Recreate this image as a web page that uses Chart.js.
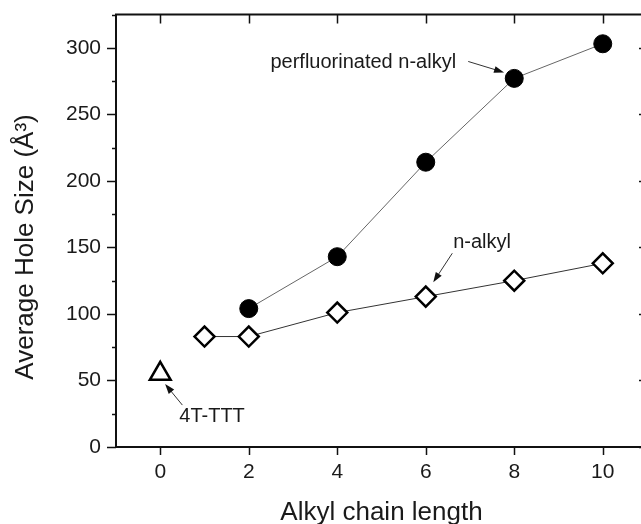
<!DOCTYPE html>
<html>
<head>
<meta charset="utf-8">
<script src="https://cdn.jsdelivr.net/npm/chart.js@4.4.0/dist/chart.umd.min.js"></script>
<style>
  html, body { margin: 0; padding: 0; background: #fff; overflow: hidden; }
  canvas { display: block; }
</style>
</head>
<body>
<canvas id="chart" width="680" height="524"></canvas>
<script>
// ==========================
// Data
// ==========================
const perfluoroX = [2, 4, 6, 8, 10];
const perfluoroY = [104, 143, 214, 277, 303];
const alkylX = [1, 2, 4, 6, 8, 10];
const alkylY = [83, 83, 101, 113, 125, 138];
const refX = [0];
const refY = [55];

const xTicks = [0, 2, 4, 6, 8, 10];
const yTicks = [0, 50, 100, 150, 200, 250, 300];
const yMinorTicks = [25, 75, 125, 175, 225, 275, 325];

const xTitle = "Alkyl chain length";
const yTitle = "Average Hole Size (\u00C5\u00B3)";

// label text, where it sits, and the arrow (data units)
const notes = [
  { text: "perfluorinated n-alkyl", at: [2.49, 284.5], from: [6.96, 289.7], to: [7.77, 281.5] },
  { text: "n-alkyl", at: [6.62, 149.4], from: [6.60, 145.6], to: [6.17, 123.8] },
  { text: "4T-TTT", at: [0.43, 18.8], from: [0.50, 31.5], to: [0.11, 47.3] }
];

const FONT = "'Liberation Sans', Arial, sans-serif";
const INK = "#1a1a1a";

const toPoints = (xs, ys) => xs.map((x, i) => ({ x: x, y: ys[i] }));

// ==========================
// Frame, ticks, titles, notes
// ==========================
const framePlugin = {
  id: "frame",
  afterDraw(chart) {
    const { ctx, chartArea: a, scales } = chart;
    const sx = scales.x, sy = scales.y;
    ctx.save();
    ctx.strokeStyle = "#111";
    ctx.lineWidth = 2;
    ctx.strokeRect(a.left, a.top, a.right - a.left, a.bottom - a.top);

    ctx.lineWidth = 1.5;
    ctx.beginPath();
    xTicks.forEach(v => {
      const px = Math.round(sx.getPixelForValue(v)) + 0.5;
      ctx.moveTo(px, a.bottom); ctx.lineTo(px, a.bottom + 8);
      ctx.moveTo(px, a.top); ctx.lineTo(px, a.top + 9);
    });
    yTicks.forEach(v => {
      const py = Math.round(sy.getPixelForValue(v)) + 0.5;
      ctx.moveTo(a.left, py); ctx.lineTo(a.left - 9, py);
      ctx.moveTo(a.right, py); ctx.lineTo(a.right - 8, py);
    });
    yMinorTicks.forEach(v => {
      const py = Math.round(sy.getPixelForValue(v)) + 0.5;
      ctx.moveTo(a.left, py); ctx.lineTo(a.left - 4, py);
      ctx.moveTo(a.right, py); ctx.lineTo(a.right - 4, py);
    });
    ctx.stroke();

    // axis titles
    ctx.fillStyle = INK;
    ctx.font = "26px " + FONT;
    ctx.textAlign = "center";
    ctx.textBaseline = "alphabetic";
    ctx.fillText(xTitle, (a.left + a.right) / 2, 520);
    ctx.save();
    ctx.translate(33, 247);
    ctx.rotate(-Math.PI / 2);
    ctx.fillText(yTitle, 0, 0);
    ctx.restore();

    // notes with arrows
    ctx.font = "20px " + FONT;
    ctx.textAlign = "left";
    notes.forEach(n => {
      ctx.fillText(n.text, sx.getPixelForValue(n.at[0]), sy.getPixelForValue(n.at[1]));
      const x1 = sx.getPixelForValue(n.from[0]), y1 = sy.getPixelForValue(n.from[1]);
      const x2 = sx.getPixelForValue(n.to[0]), y2 = sy.getPixelForValue(n.to[1]);
      const ang = Math.atan2(y2 - y1, x2 - x1);
      ctx.strokeStyle = "#333";
      ctx.lineWidth = 1;
      ctx.beginPath();
      ctx.moveTo(x1, y1);
      ctx.lineTo(x2 - 6 * Math.cos(ang), y2 - 6 * Math.sin(ang));
      ctx.stroke();
      ctx.fillStyle = "#111";
      ctx.beginPath();
      ctx.moveTo(x2, y2);
      ctx.lineTo(x2 - 10 * Math.cos(ang) + 3.5 * Math.sin(ang), y2 - 10 * Math.sin(ang) - 3.5 * Math.cos(ang));
      ctx.lineTo(x2 - 10 * Math.cos(ang) - 3.5 * Math.sin(ang), y2 - 10 * Math.sin(ang) + 3.5 * Math.cos(ang));
      ctx.closePath();
      ctx.fill();
      ctx.fillStyle = INK;
    });
    ctx.restore();
  }
};

// ==========================
// Chart
// ==========================
new Chart(document.getElementById("chart"), {
  type: "scatter",
  data: {
    datasets: [
      {
        label: "perfluorinated n-alkyl",
        data: toPoints(perfluoroX, perfluoroY),
        showLine: true,
        borderColor: "#666",
        borderWidth: 1,
        pointStyle: "circle",
        pointRadius: 9,
        pointBackgroundColor: "#000",
        pointBorderColor: "#000",
        pointBorderWidth: 1
      },
      {
        label: "n-alkyl",
        data: toPoints(alkylX, alkylY),
        showLine: true,
        borderColor: "#333",
        borderWidth: 1,
        pointStyle: "rectRot",
        pointRadius: 10,
        pointBackgroundColor: "#fff",
        pointBorderColor: "#000",
        pointBorderWidth: 2.5
      },
      {
        label: "4T-TTT",
        data: toPoints(refX, refY),
        showLine: false,
        pointStyle: "triangle",
        pointRadius: 12,
        pointBackgroundColor: "#fff",
        pointBorderColor: "#000",
        pointBorderWidth: 2.5
      }
    ]
  },
  options: {
    responsive: false,
    animation: false,
    layout: { padding: { top: 14, right: 33, left: 0, bottom: 0 } },
    plugins: { legend: { display: false }, tooltip: { enabled: false } },
    scales: {
      x: {
        type: "linear",
        min: -1,
        max: 11,
        afterBuildTicks: s => { s.ticks = xTicks.map(v => ({ value: v })); },
        afterFit: s => { s.height = 77; s.paddingLeft = 0; s.paddingRight = 0; },
        grid: { display: false, drawTicks: false },
        border: { display: false },
        ticks: { font: { family: FONT, size: 21 }, color: INK, padding: 13 }
      },
      y: {
        type: "linear",
        min: 0,
        max: 325,
        afterBuildTicks: s => { s.ticks = yTicks.map(v => ({ value: v })); },
        afterFit: s => { s.width = 116; s.paddingTop = 0; s.paddingBottom = 0; },
        grid: { display: false, drawTicks: false },
        border: { display: false },
        ticks: { font: { family: FONT, size: 21 }, color: INK, padding: 15 }
      }
    }
  },
  plugins: [framePlugin]
});
</script>
</body>
</html>
